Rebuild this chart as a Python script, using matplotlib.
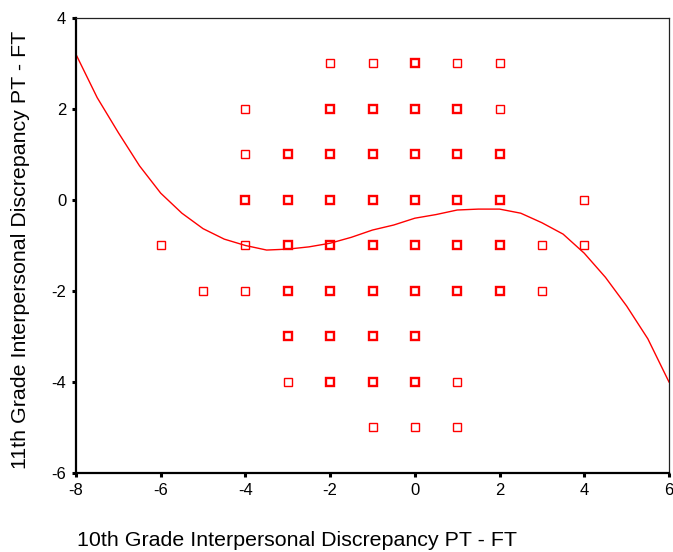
import matplotlib.pyplot as plt

plt.rcParams['axes.unicode_minus'] = False

# scatter points (x = 10th grade, y = 11th grade), weight 1 = single, 2 = overlapping
pt_x = [-2, -1, 0, 1, 2,
        -4, -2, -1, 0, 1, 2,
        -4, -3, -2, -1, 0, 1, 2,
        -4, -3, -2, -1, 0, 1, 2, 4,
        -6, -4, -3, -2, -1, 0, 1, 2, 3, 4,
        -5, -4, -3, -2, -1, 0, 1, 2, 3,
        -3, -2, -1, 0,
        -3, -2, -1, 0, 1,
        -1, 0, 1]
pt_y = [3, 3, 3, 3, 3,
        2, 2, 2, 2, 2, 2,
        1, 1, 1, 1, 1, 1, 1,
        0, 0, 0, 0, 0, 0, 0, 0,
        -1, -1, -1, -1, -1, -1, -1, -1, -1, -1,
        -2, -2, -2, -2, -2, -2, -2, -2, -2,
        -3, -3, -3, -3,
        -4, -4, -4, -4, -4,
        -5, -5, -5]
pt_w = [1, 1, 2, 1, 1,
        1, 2, 2, 2, 2, 1,
        1, 2, 2, 2, 2, 2, 2,
        2, 2, 2, 2, 2, 2, 2, 1,
        1, 1, 2, 2, 2, 2, 2, 2, 1, 1,
        1, 1, 2, 2, 2, 2, 2, 2, 1,
        2, 2, 2, 2,
        1, 2, 2, 2, 1,
        1, 1, 1]

# fitted curve
fit_x = [-8, -7.5, -7, -6.5, -6, -5.5, -5, -4.5, -4, -3.5, -3, -2.5, -2, -1.5,
         -1, -0.5, 0, 0.5, 1, 1.5, 2, 2.5, 3, 3.5, 4, 4.5, 5, 5.5, 6]
fit_y = [3.2, 2.25, 1.48, 0.75, 0.15, -0.29, -0.63, -0.86, -1.0, -1.1, -1.08,
         -1.03, -0.95, -0.82, -0.66, -0.55, -0.4, -0.32, -0.22, -0.2, -0.2,
         -0.29, -0.5, -0.75, -1.17, -1.7, -2.33, -3.05, -4.0]

red = '#ff0000'

fig = plt.figure(figsize=(6.73, 5.52), dpi=100)
ax = fig.add_axes([76 / 673, 1 - 473 / 552, (669 - 76) / 673, (473 - 18) / 552])

for x, y, w in zip(pt_x, pt_y, pt_w):
    ax.plot(x, y, 's', ms=5.3, mfc='none', mec=red, mew=1.0 if w == 1 else 1.7)

ax.plot(fit_x, fit_y, c=red, lw=1.0)

ax.set_xlim(-8, 6)
ax.set_ylim(-6, 4)
ax.set_xticks(range(-8, 7, 2))
ax.set_yticks(range(-6, 5, 2))

ax.spines['left'].set_linewidth(1.6)
ax.spines['bottom'].set_linewidth(1.6)
ax.spines['top'].set_linewidth(0.9)
ax.spines['right'].set_linewidth(0.9)
ax.spines['top'].set_color('#222222')
ax.spines['right'].set_color('#222222')
ax.tick_params(direction='out', length=3, width=2.2, pad=4, labelsize=12)
for lab in ax.get_xticklabels() + ax.get_yticklabels():
    lab.set_family('Liberation Sans')

fig.text(77 / 673, 1 - 546 / 552, '10th Grade Interpersonal Discrepancy PT - FT',
         family='Liberation Sans', fontsize=15.4, ha='left', va='baseline')
fig.text(21 / 673, 1 - 250 / 552, '11th Grade Interpersonal Discrepancy PT - FT',
         family='Liberation Sans', fontsize=15.4, ha='center', va='center', rotation=90)

fig.savefig('out.png', dpi=100)
